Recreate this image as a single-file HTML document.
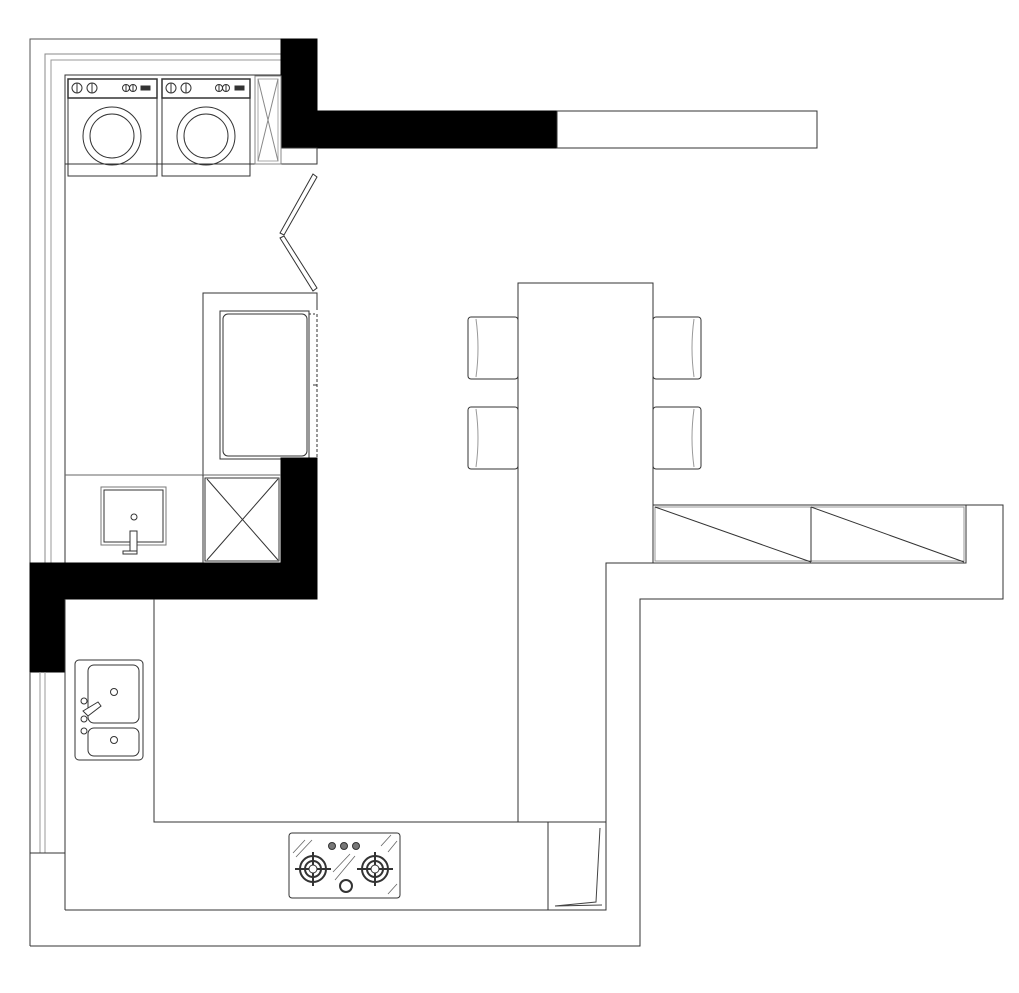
<!DOCTYPE html>
<html><head><meta charset="utf-8"><style>html,body{margin:0;padding:0;background:#fff}svg{display:block}</style></head>
<body>
<svg width="1019" height="993" viewBox="0 0 1019 993" xmlns="http://www.w3.org/2000/svg" fill="none" stroke="#333" stroke-width="1">
<polyline points="30,563 30,39 281,39" stroke="#555"/>
<polyline points="45,563 45,54 281,54" stroke="#888"/>
<polyline points="51,563 51,60 281,60" stroke="#999"/>
<polyline points="65,563 65,75 281,75"/>
<path d="M281,39 H317 V111 H557 V148 H281 Z" fill="#000" stroke="#000"/>
<rect x="557" y="111" width="260" height="37"/>
<rect x="281" y="148" width="36" height="16"/>
<line x1="65" y1="164" x2="281" y2="164"/>
<g>
<rect x="68" y="79" width="89" height="97"/>
<rect x="68" y="79" width="89" height="19" stroke-width="1.5"/>
<circle cx="77" cy="88" r="5"/><line x1="77" y1="83" x2="77" y2="93"/>
<circle cx="92" cy="88" r="5"/><line x1="92" y1="83" x2="92" y2="93"/>
<circle cx="126" cy="88" r="3.5"/><line x1="126" y1="84" x2="126" y2="92"/><circle cx="133" cy="88" r="3.5"/><line x1="133" y1="84" x2="133" y2="92"/>
<rect x="141" y="86" width="9" height="4" fill="#333"/>
<circle cx="112" cy="136" r="29"/><circle cx="112" cy="136" r="22"/>
</g>
<g>
<rect x="162" y="79" width="88" height="97"/>
<rect x="162" y="79" width="88" height="19" stroke-width="1.5"/>
<circle cx="171" cy="88" r="5"/><line x1="171" y1="83" x2="171" y2="93"/>
<circle cx="186" cy="88" r="5"/><line x1="186" y1="83" x2="186" y2="93"/>
<circle cx="219" cy="88" r="3.5"/><line x1="219" y1="84" x2="219" y2="92"/><circle cx="226" cy="88" r="3.5"/><line x1="226" y1="84" x2="226" y2="92"/>
<rect x="235" y="86" width="9" height="4" fill="#333"/>
<circle cx="206" cy="136" r="29"/><circle cx="206" cy="136" r="22"/>
</g>
<rect x="255" y="76" width="26" height="88" stroke="#888"/>
<rect x="258" y="79" width="20" height="82" stroke="#aaa"/>
<polyline points="258,79 278,161" stroke="#888"/><polyline points="278,79 258,161" stroke="#888"/>
<polygon points="313,174 317,177 284,235 280,233"/>
<polygon points="280,238 284,236 317,288 313,291"/>
<polyline points="203,475 203,293 317,293 317,310"/>
<rect x="220" y="311" width="89" height="148"/>
<rect x="223" y="314" width="84" height="142" rx="5"/>
<line x1="309" y1="314" x2="317" y2="314" stroke-dasharray="2,2"/>
<line x1="317" y1="314" x2="317" y2="458" stroke-dasharray="3,2"/>
<line x1="313" y1="385" x2="317" y2="385"/>
<path d="M281,458 H317 V599 H65 V672 H30 V563 H281 Z" fill="#000" stroke="#000"/>
<line x1="65" y1="475" x2="281" y2="475" stroke="#666"/>
<line x1="203" y1="475" x2="203" y2="563"/>
<rect x="101" y="487" width="65" height="58" stroke="#777"/>
<rect x="104" y="490" width="59" height="52"/>
<circle cx="134" cy="517" r="3"/>
<rect x="130" y="531" width="7" height="22" fill="#fff"/>
<rect x="123" y="551" width="14" height="3" fill="#fff"/>
<rect x="205" y="478" width="74" height="83"/>
<line x1="207" y1="479" x2="278" y2="560"/><line x1="278" y1="479" x2="207" y2="560"/>
<line x1="30" y1="672" x2="30" y2="946"/>
<line x1="40" y1="672" x2="40" y2="853" stroke="#999"/>
<line x1="45" y1="672" x2="45" y2="853" stroke="#999"/>
<line x1="30" y1="853" x2="65" y2="853"/>
<line x1="65" y1="599" x2="65" y2="910"/>
<polyline points="154,599 154,822 548,822"/>
<polyline points="65,910 606,910"/>
<polyline points="30,946 640,946 640,599 1003,599 1003,505 966,505"/>
<rect x="75" y="660" width="68" height="100" rx="4"/>
<rect x="88" y="665" width="51" height="58" rx="6"/>
<rect x="88" y="728" width="51" height="28" rx="6"/>
<circle cx="114" cy="692" r="3.5"/><circle cx="114" cy="740" r="3.5"/>
<circle cx="84" cy="701" r="3"/><circle cx="84" cy="719" r="3"/><circle cx="84" cy="731" r="3"/>
<polygon points="83,711 98,702 101,706 88,716" fill="#fff"/>
<rect x="289" y="833" width="111" height="65" rx="3"/>
<g stroke-width="2">
<circle cx="313" cy="869" r="13"/><circle cx="313" cy="869" r="8"/>
<line x1="295" y1="869" x2="331" y2="869"/><line x1="313" y1="852" x2="313" y2="886"/>
<circle cx="375" cy="869" r="13"/><circle cx="375" cy="869" r="8"/>
<line x1="357" y1="869" x2="393" y2="869"/><line x1="375" y1="852" x2="375" y2="886"/>
<circle cx="346" cy="886" r="6"/>
</g>
<circle cx="313" cy="869" r="4" fill="#fff"/><circle cx="375" cy="869" r="4" fill="#fff"/>
<circle cx="332" cy="846" r="3.5" fill="#777"/><circle cx="344" cy="846" r="3.5" fill="#777"/><circle cx="356" cy="846" r="3.5" fill="#777"/>
<g stroke="#666" stroke-width="0.8">
<line x1="293" y1="853" x2="305" y2="840"/><line x1="296" y1="857" x2="312" y2="840"/>
<line x1="335" y1="880" x2="355" y2="856"/><line x1="333" y1="872" x2="350" y2="854"/>
<line x1="381" y1="846" x2="391" y2="835"/><line x1="388" y1="852" x2="397" y2="841"/>
<line x1="388" y1="894" x2="397" y2="884"/>
</g>
<rect x="548" y="822" width="58" height="88"/>
<polyline points="600,828 596,902 555,906 602,905" stroke="#444"/>
<g>
<rect x="468" y="317" width="50" height="62" rx="3" fill="#fff"/>
<path d="M476,319 Q480,348 476,377" stroke="#999"/>
<rect x="468" y="407" width="50" height="62" rx="3" fill="#fff"/>
<path d="M476,409 Q480,438 476,467" stroke="#999"/>
<rect x="653" y="317" width="48" height="62" rx="3" fill="#fff"/>
<path d="M694,319 Q690,348 694,377" stroke="#999"/>
<rect x="653" y="407" width="48" height="62" rx="3" fill="#fff"/>
<path d="M694,409 Q690,438 694,467" stroke="#999"/>
</g>
<polygon points="518,283 653,283 653,563 606,563 606,822 518,822" fill="#fff"/>
<rect x="653" y="505" width="313" height="58"/>
<rect x="655" y="507" width="309" height="54" stroke="#999"/>
<line x1="811" y1="507" x2="811" y2="562"/>
<line x1="655" y1="507" x2="811" y2="562"/><line x1="811" y1="507" x2="964" y2="562"/>
</svg>
</body></html>
